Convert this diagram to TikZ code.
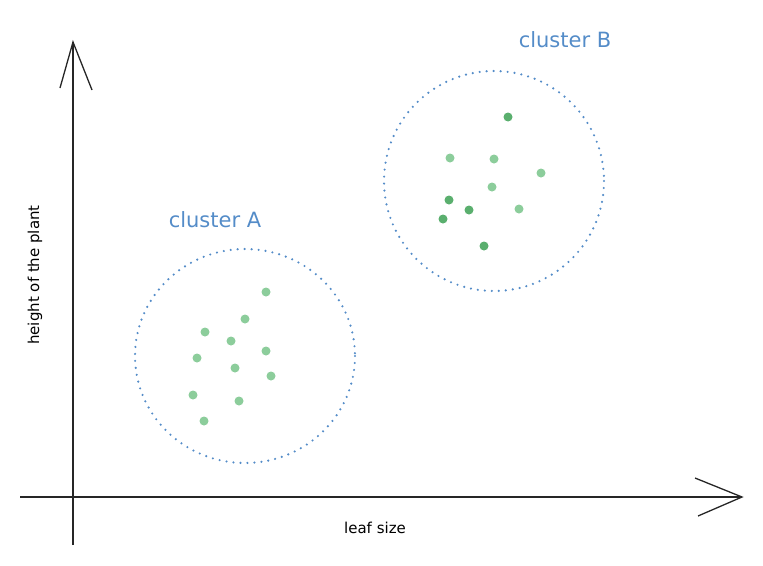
\documentclass[tikz,border=0pt]{standalone}
\usepackage{fontspec}
\setmainfont{DejaVu Sans}
\begin{document}
\begin{tikzpicture}[x=1pt,y=-1pt,
  ax/.style={line width=1.3pt,black!85},
  clu/.style={line width=2.4pt,draw={rgb,255:red,84;green,140;blue,200},line cap=round,dash pattern=on 0pt off 7pt},
  lbl/.style={text={rgb,255:red,84;green,140;blue,200},font=\fontsize{21}{24}\selectfont},
  pt/.style={circle,fill={rgb,255:red,140;green,205;blue,155},inner sep=0pt,minimum size=9pt},
  dpt/.style={circle,fill={rgb,255:red,90;green,175;blue,110},inner sep=0pt,minimum size=9pt}]
\useasboundingbox (0,0) rectangle (763,565);
\coordinate (yb) at (73,545); \coordinate (yt) at (73,42);
\coordinate (xl) at (20,497); \coordinate (xr) at (742,497);
\draw[ax] (yb) -- (yt);
\draw[ax] (60,88) -- (yt) -- (92,90);
\draw[ax] (xl) -- (xr);
\draw[ax] (695,478) -- (xr) -- (698,516);
\node (xlab) at (375,528) {\fontsize{15}{17}\selectfont leaf size};
\node[rotate=90] (ylab) at (35,275) {\fontsize{15}{17}\selectfont height of the plant};
\draw[clu] (245,356) ellipse [x radius=110, y radius=107];
\draw[clu] (494,181) ellipse [x radius=110, y radius=110];
\node[lbl] (la) at (215,220) {cluster A};
\node[lbl] (lb) at (565,40) {cluster B};
\foreach \p [count=\i] in {(266,292),(245,319),(205,332),(231,341),(197,358),(266,351),(235,368),(271,376),(193,395),(239,401),(204,421)}
  \node[pt] (a\i) at \p {};
\foreach \p [count=\i] in {(450,158),(494,159),(541,173),(492,187),(519,209)}
  \node[pt] (b\i) at \p {};
\foreach \p [count=\i] in {(508,117),(449,200),(469,210),(443,219),(484,246)}
  \node[dpt] (c\i) at \p {};
\end{tikzpicture}
\end{document}
